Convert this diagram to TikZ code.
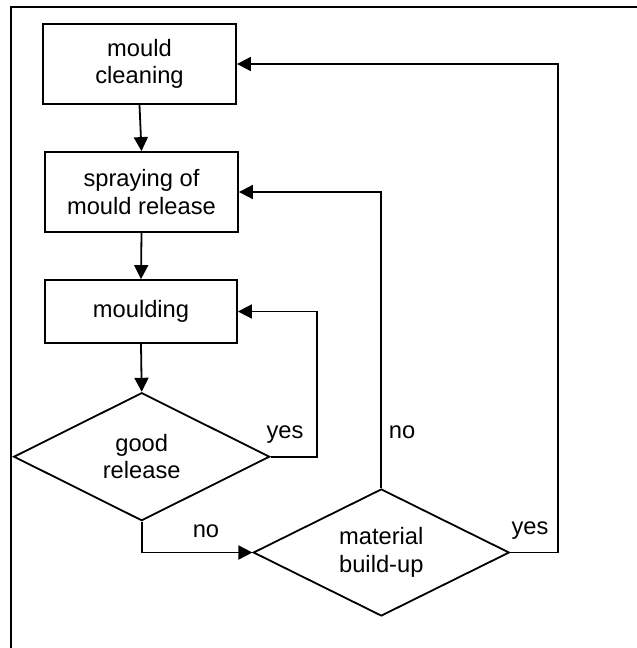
\documentclass[tikz,border=0pt]{standalone}
\usepackage{fontspec}
\setmainfont{Liberation Sans}
\usetikzlibrary{shapes.geometric,arrows.meta}
\tikzset{
  lbl/.style={font=\fontsize{23.7}{27.5}\selectfont, inner sep=0pt},
  procbox/.style={draw, rectangle, line width=1.8pt, align=center, inner sep=0pt,
    font=\fontsize{23.7}{27.5}\selectfont},
  decide/.style={draw, diamond, aspect=2, line width=1.8pt, align=center, inner sep=0pt,
    minimum width=256pt, minimum height=128pt, font=\fontsize{23.7}{27.5}\selectfont},
  conn/.style={line width=1.8pt, -{Triangle[length=14pt,width=14pt]}},
  plain/.style={line width=1.8pt}
}
\begin{document}
\begin{tikzpicture}[x=1pt,y=-1pt]
\useasboundingbox (0,0) rectangle (637,648);
\draw[plain] (11,648) -- (11,7) -- (637,7);

\node[procbox, minimum width=193pt, minimum height=80pt] (b1) at (139.5,64) {mould\\cleaning};
\node[procbox, minimum width=193pt, minimum height=80pt] (b2) at (141.5,192) {spraying of\\mould release};
\node[procbox, minimum width=192pt, minimum height=63pt] (b3) at (141,311.5) {moulding};
\node[decide] (d1) at (141.7,456.7) {good\\release};
\node[decide, minimum height=127pt] (d2) at (381.3,552.5) {material\\build-up};

\coordinate (c1) at (317,456.7);
\coordinate (c2) at (557.7,552.5);

\draw[conn] (b1.south) -- (b2.north);
\draw[conn] (b2.south) -- (b3.north);
\draw[conn] (b3.south) -- (d1.north);
\draw[conn] (d1.east) -- (c1) |- (b3.east);
\draw[conn] (d1.south) |- (d2.west);
\draw[conn] (d2.north) |- (b2.east);
\draw[conn] (d2.east) -- (c2) |- (b1.east);

\node[lbl] (yes1) at (285,435) {yes};
\node[lbl] (no1) at (206,531) {no};
\node[lbl] (no2) at (402,432) {no};
\node[lbl] (yes2) at (530,531) {yes};
\end{tikzpicture}
\end{document}
